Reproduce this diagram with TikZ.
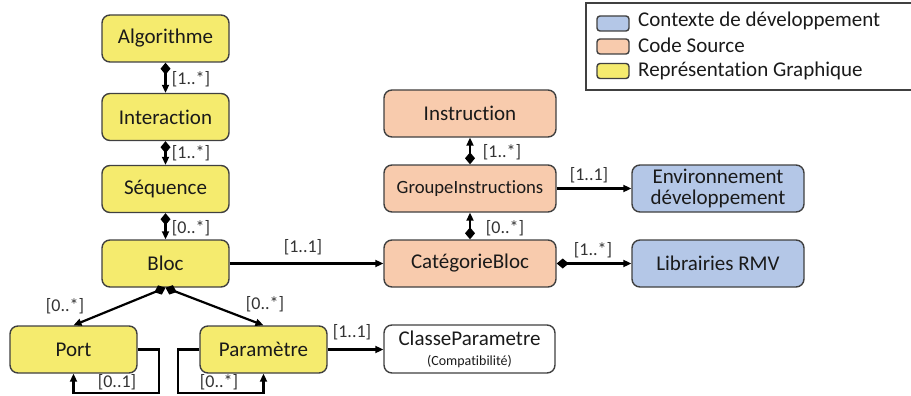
\documentclass[tikz,border=0pt]{standalone}
\usepackage{fontspec}
\setmainfont{Carlito}[Ligatures={NoCommon,NoRare}]
\usetikzlibrary{arrows.meta}
\definecolor{cyel}{HTML}{F5EB6E}
\definecolor{corg}{HTML}{F8CBAD}
\definecolor{cblu}{HTML}{B4C7E7}
\definecolor{cbrd}{HTML}{404040}
\definecolor{ctxt}{HTML}{1A1A1A}
\definecolor{clab}{HTML}{333333}
\tikzset{
  box/.style={draw=cbrd, line width=1.4pt, rounded corners=8pt, minimum height=47pt, inner sep=0pt, align=center, text=ctxt, font=\fontsize{21}{23}\selectfont},
  ybox/.style={box, fill=cyel, minimum width=127pt},
  obox/.style={box, fill=corg, minimum width=172pt},
  bbox/.style={box, fill=cblu, minimum width=172pt},
  wbox/.style={box, fill=white, minimum width=171pt, minimum height=48pt},
  lab/.style={text=clab, font=\fontsize{18}{20}\selectfont, inner sep=0pt},
  conn/.style={line width=2.2pt, -{Triangle[length=8pt,width=7pt]}},
  dconn/.style={line width=2.2pt, {Diamond[length=12pt,width=10pt]}-{Triangle[length=8pt,width=7pt]}},
  swatch/.style={draw=cbrd, line width=1.4pt, rounded corners=3pt, minimum width=32pt, minimum height=15pt, inner sep=0pt},
  legtxt/.style={text=ctxt, font=\fontsize{21}{23}\selectfont, inner sep=0pt, anchor=west}
}
\begin{document}
\begin{tikzpicture}[x=1pt,y=-1pt]
\useasboundingbox (0,0) rectangle (911,396);
% legend
\draw[cbrd, line width=1.4pt] (920,3) -- (586,3) -- (586,90) -- (920,90);
\node[swatch, fill=cblu] (s1) at (613,23.5) {};
\node[swatch, fill=corg] (s2) at (613,46.5) {};
\node[swatch, fill=cyel] (s3) at (613,71) {};
\node[legtxt] (t1) at (638,21) {Contexte de développement};
\node[legtxt] (t2) at (638,45) {Code Source};
\node[legtxt] (t3) at (638,71) {Représentation Graphique};
% nodes
\node[ybox] (alg) at (165.5,38.5) {Algorithme};
\node[ybox] (int) at (165.5,117) {Interaction};
\node[ybox] (seq) at (165.5,189) {Séquence};
\node[ybox] (bloc) at (165.5,263.5) {Bloc};
\node[ybox] (port) at (73.5,349.5) {Port};
\node[ybox] (par) at (263.5,349.5) {Paramètre};
\node[wbox] (cls) at (469.5,349) {ClasseParametre\\[-3pt]{\fontsize{14}{15}\selectfont (Compatibilité)}};
\node[obox] (ins) at (470,113.5) {Instruction};
\node[obox, font=\fontsize{18.7}{21}\selectfont] (grp) at (470,188.5) {GroupeInstructions};
\node[obox] (cat) at (470,263.5) {CatégorieBloc};
\node[bbox] (env) at (718,188.5) {Environnement\\[-2pt]développement};
\node[bbox] (lib) at (718,263.5) {Librairies RMV};
% connectors
\draw[dconn] (alg.south) -- (int.north);
\draw[dconn] (int.south) -- (seq.north);
\draw[dconn] (seq.south) -- (bloc.north);
\draw[conn] (bloc.east) -- (cat.west);
\draw[dconn] (bloc.south) -- (port.north);
\draw[dconn] (bloc.south) -- (par.north);
\draw[conn] (par.east) -- (par.east -| cls.west);
\draw[conn] (port.east) -- ++(21,0) -- ++(0,43.5) -| (port.south);
\draw[conn] (par.west) -- ++(-21,0) -- ++(0,43.5) -| (par.south);
\draw[dconn] (cat.north) -- (grp.south);
\draw[dconn] (grp.north) -- (ins.south);
\draw[conn] (grp.east) -- (env.west);
\draw[dconn] (cat.east) -- (lib.west);
% labels
\node[lab] (l1) at (191,79) {[1..*]};
\node[lab] (l2) at (191,153) {[1..*]};
\node[lab] (l3) at (191,228) {[0..*]};
\node[lab] (l4) at (303,247) {[1..1]};
\node[lab] (l5) at (65,306) {[0..*]};
\node[lab] (l6) at (265,304) {[0..*]};
\node[lab] (l7) at (352,332) {[1..1]};
\node[lab] (l8) at (117,382) {[0..1]};
\node[lab] (l9) at (219,382) {[0..*]};
\node[lab] (l10) at (502,152) {[1..*]};
\node[lab] (l11) at (505,228) {[0..*]};
\node[lab] (l12) at (589,175) {[1..1]};
\node[lab] (l13) at (593,250) {[1..*]};
\end{tikzpicture}
\end{document}
